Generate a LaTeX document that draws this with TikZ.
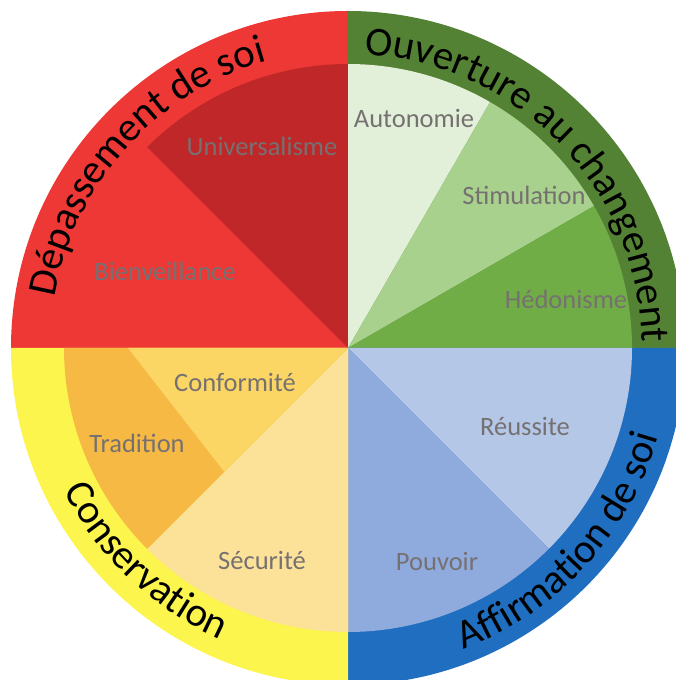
\documentclass[tikz,border=0pt]{standalone}
\usepackage{fontspec}
\setmainfont{Carlito}
\usetikzlibrary{decorations.text}
\definecolor{ringred}{HTML}{ED3836}
\definecolor{univred}{HTML}{BF2729}
\definecolor{ringgreen}{HTML}{548235}
\definecolor{autgreen}{HTML}{E2EFD9}
\definecolor{stimgreen}{HTML}{A9D18E}
\definecolor{hedgreen}{HTML}{70AD47}
\definecolor{ringblue}{HTML}{1F6EC0}
\definecolor{reublue}{HTML}{B4C7E7}
\definecolor{pouvblue}{HTML}{8FAADC}
\definecolor{ringyellow}{HTML}{FCF54D}
\definecolor{secyellow}{HTML}{FCE198}
\definecolor{tradorange}{HTML}{F6B944}
\definecolor{confyellow}{HTML}{FBD664}
\definecolor{labelgray}{HTML}{767171}
\newcommand\ttlfont{\fontsize{41}{41}\selectfont}
\begin{document}
\begin{tikzpicture}[
  lbl/.style={text=labelgray, font=\fontsize{26.5}{30}\selectfont, inner sep=0pt},
  ttl/.style={decorate, decoration={text along path, text align=center, text={|\ttlfont\color{black}|#1}}},
]
\useasboundingbox (0,0) rectangle (675pt,680pt);
\fill[white] (0,0) rectangle (675pt,680pt);
\coordinate (O) at (348pt,332pt);
% top-left quadrant
\fill[ringred] (O) -- ++(90:337pt) arc[start angle=90,end angle=180,radius=337pt] -- cycle;
\fill[univred] (O) -- ++(90:284pt) arc[start angle=90,end angle=135,radius=284pt] -- cycle;
% top-right quadrant
\fill[ringgreen] (O) -- ++(0:337pt) arc[start angle=0,end angle=90,radius=337pt] -- cycle;
\fill[autgreen] (O) -- ++(60:284pt) arc[start angle=60,end angle=90,radius=284pt] -- cycle;
\fill[stimgreen] (O) -- ++(30:284pt) arc[start angle=30,end angle=60,radius=284pt] -- cycle;
\fill[hedgreen] (O) -- ++(0:284pt) arc[start angle=0,end angle=30,radius=284pt] -- cycle;
% bottom-right quadrant
\fill[ringblue] (O) -- ++(-90:337pt) arc[start angle=-90,end angle=0,radius=337pt] -- cycle;
\fill[reublue] (O) -- ++(-45:284pt) arc[start angle=-45,end angle=0,radius=284pt] -- cycle;
\fill[pouvblue] (O) -- ++(-90:284pt) arc[start angle=-90,end angle=-45,radius=284pt] -- cycle;
% bottom-left quadrant
\fill[ringyellow] (O) -- ++(180:337pt) arc[start angle=180,end angle=270,radius=337pt] -- cycle;
\fill[secyellow] (O) -- ++(225:284pt) arc[start angle=225,end angle=270,radius=284pt] -- cycle;
\fill[tradorange] (O) -- ++(180:284pt) arc[start angle=180,end angle=225,radius=284pt] -- cycle;
\path (O) ++(225:175pt) coordinate (cj);
\path (O) ++(180:220pt) coordinate (ct);
\fill[confyellow] (O) -- (ct) -- (cj) -- cycle;
% value labels
\node[lbl] (univ) at (262pt,534pt) {Universalisme};
\node[lbl] (bien) at (165pt,409pt) {Bienveillance};
\node[lbl] (auto) at (414pt,562pt) {Autonomie};
\node[lbl] (stim) at (524pt,485pt) {Stimulation};
\node[lbl] (hedo) at (566pt,381pt) {Hédonisme};
\node[lbl] (conf) at (235pt,298pt) {Conformité};
\node[lbl] (trad) at (137pt,237pt) {Tradition};
\node[lbl] (secu) at (262pt,120pt) {Sécurité};
\node[lbl] (reus) at (525pt,254pt) {Réussite};
\node[lbl] (pouv) at (437pt,119pt) {Pouvoir};
% titles along the ring
\path[ttl={Dépassement de soi}] (O) ++(175:298pt) arc[start angle=175,end angle=101,radius=298pt];
\path[ttl={Ouverture au changement}] (O) ++(89:294pt) arc[start angle=89,end angle=-1,radius=294pt];
\path[ttl={Affirmation de soi}] (O) ++(-81:323pt) arc[start angle=-81,end angle=-4,radius=323pt];
\path[ttl={Conservation}] (O) ++(202:318pt) arc[start angle=202,end angle=251,radius=318pt];
\end{tikzpicture}
\end{document}
